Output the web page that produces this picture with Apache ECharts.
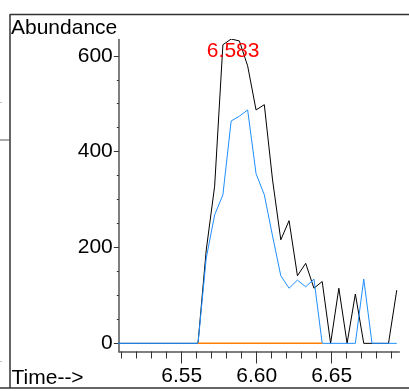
<!DOCTYPE html>
<html>
<head>
<meta charset="utf-8">
<script src="https://cdn.jsdelivr.net/npm/echarts@6/dist/echarts.min.js"></script>
<style>
  html, body { margin: 0; padding: 0; background: #fff; }
  #chart { width: 409px; height: 391px; }
</style>
</head>
<body>
<div id="chart"></div>
<script>
// Scan times (min) of the chromatogram window
const scanTimes = [
  6.5057, 6.5112, 6.5167, 6.5222, 6.5278, 6.5333, 6.5388, 6.5443, 6.5499, 6.5554,
  6.5609, 6.5664, 6.5720, 6.5775, 6.5830, 6.5885, 6.5940, 6.5996, 6.6051, 6.6106,
  6.6161, 6.6216, 6.6272, 6.6327, 6.6382, 6.6437, 6.6493, 6.6548, 6.6603, 6.6658,
  6.6714, 6.6769, 6.6824, 6.6879, 6.6934
];
// Total ion abundance (black trace)
const totalAbundance = [
  0, 0, 0, 0, 0, 0, 0, 0, 0, 0,
  0, 195, 328, 623, 635, 631, 579, 487, 498, 341,
  216, 256, 141, 167, 115, 129, 0, 115, 0, 103,
  0, 0, 0, 0, 111
];
// Extracted ion abundance (blue trace)
const ionAbundance = [
  0, 0, 0, 0, 0, 0, 0, 0, 0, 0,
  0, 178, 268, 310, 464, 474, 487, 354, 310, 224,
  141, 115, 132, 118, 134, 0, 0, 0, 0, 0,
  134, 0, 0, 0, 0
];
// Integration baseline of the peak
const baselineTimes = [6.5609, 6.6437];
const baselineAbundance = [0, 0];
// Peak apex annotation
const peakTime = 6.583;
const peakAbundance = 635;
const peakLabel = '6.583';
// Axis ticks
const xMajorTicks = [6.55, 6.60, 6.65];
const xMinorTicks = [6.51, 6.52, 6.53, 6.54, 6.56, 6.57, 6.58, 6.59, 6.61, 6.62, 6.63, 6.64, 6.66, 6.67, 6.68, 6.69];
const yMajorTicks = [0, 200, 400, 600];
const yMinorTicks = [50, 100, 150, 250, 300, 350, 450, 500, 550];

const FONT = '"Liberation Sans", Arial, sans-serif';
const AXIS_COLOR = '#555';

const pairs = (xs, ys) => xs.map((x, i) => [x, ys[i]]);

const xRange = { min: 6.5081, max: 6.6951 };
const yRange = { min: -17, max: 634 };

const chart = echarts.init(document.getElementById('chart'), null, { renderer: 'canvas' });

chart.setOption({
  animation: false,
  backgroundColor: '#fff',
  title: [
    { text: 'Abundance', left: 11, top: 17.5, padding: 0,
      textStyle: { fontSize: 21, fontWeight: 'normal', color: '#000', fontFamily: FONT } },
    { text: 'Time-->', left: 11.5, top: 367.5, padding: 0,
      textStyle: { fontSize: 21, fontWeight: 'normal', color: '#000', fontFamily: FONT } }
  ],
  grid: { left: 118.8, right: 9.7, top: 39.5, bottom: 39.5, containLabel: false },
  xAxis: [
    {
      type: 'value', position: 'bottom', ...xRange,
      axisLine: { show: true, onZero: false, lineStyle: { color: AXIS_COLOR, width: 1.5 } },
      axisTick: { show: true, customValues: xMajorTicks, length: 12, lineStyle: { color: '#333', width: 1 } },
      axisLabel: { show: true, customValues: xMajorTicks, formatter: v => v.toFixed(2),
        fontSize: 21, color: '#000', fontFamily: FONT, margin: 14.5 },
      splitLine: { show: false }
    },
    {
      type: 'value', position: 'bottom', ...xRange,
      axisLine: { show: false, onZero: false },
      axisTick: { show: true, customValues: xMinorTicks, length: 7, lineStyle: { color: '#333', width: 1 } },
      axisLabel: { show: false },
      splitLine: { show: false }
    }
  ],
  yAxis: [
    {
      type: 'value', position: 'left', ...yRange,
      axisLine: { show: true, onZero: false, lineStyle: { color: AXIS_COLOR, width: 1.5 } },
      axisTick: { show: true, customValues: yMajorTicks, length: 5, lineStyle: { color: '#333', width: 1 } },
      axisLabel: { show: true, customValues: yMajorTicks, fontSize: 21, color: '#000', fontFamily: FONT, margin: 6 },
      splitLine: { show: false }
    },
    {
      type: 'value', position: 'left', ...yRange,
      axisLine: { show: false, onZero: false },
      axisTick: { show: true, customValues: yMinorTicks, length: 2, lineStyle: { color: '#333', width: 1 } },
      axisLabel: { show: false },
      splitLine: { show: false }
    }
  ],
  series: [
    {
      name: 'TIC', type: 'line', xAxisIndex: 0, yAxisIndex: 0,
      data: pairs(scanTimes, totalAbundance),
      symbol: 'none', clip: true,
      lineStyle: { color: '#000', width: 1 },
      z: 2
    },
    {
      name: 'Ion', type: 'line', xAxisIndex: 0, yAxisIndex: 0,
      data: pairs(scanTimes, ionAbundance),
      symbol: 'none', clip: true,
      lineStyle: { color: '#1e8fff', width: 1 },
      z: 3
    },
    {
      name: 'Baseline', type: 'line', xAxisIndex: 0, yAxisIndex: 0,
      data: pairs(baselineTimes, baselineAbundance),
      symbol: 'none', clip: true,
      lineStyle: { color: '#ff7f00', width: 1.5, opacity: 1 },
      z: 4
    },
    {
      // apex retention time label
      name: 'Apex', type: 'scatter', xAxisIndex: 0, yAxisIndex: 0,
      data: [[peakTime, peakAbundance]],
      symbol: 'circle', symbolSize: 1, clip: false,
      itemStyle: { color: '#ff0000', opacity: 0 },
      silent: true,
      label: { show: true, position: 'inside', offset: [2, 12], formatter: peakLabel,
        color: '#ff0000', opacity: 1, fontSize: 21, fontFamily: FONT,
        textBorderWidth: 0, textBorderColor: 'transparent' },
      z: 5
    }
  ],
  graphic: [
    { type: 'line', silent: true, shape: { x1: 10, y1: 14.5, x2: 409, y2: 14.5 }, style: { stroke: '#333', lineWidth: 1.5 } },
    { type: 'line', silent: true, shape: { x1: 10, y1: 14, x2: 10, y2: 388 }, style: { stroke: '#333', lineWidth: 1.5 } },
    { type: 'line', silent: true, shape: { x1: 0, y1: 388, x2: 409, y2: 388 }, style: { stroke: '#333', lineWidth: 1.5 } },
    { type: 'line', silent: true, shape: { x1: 0, y1: 140, x2: 10, y2: 140 }, style: { stroke: '#555', lineWidth: 1 } },
    { type: 'line', silent: true, shape: { x1: 0, y1: 102.5, x2: 2, y2: 102.5 }, style: { stroke: '#bbb', lineWidth: 1 } },
    { type: 'line', silent: true, shape: { x1: 0, y1: 361.5, x2: 2, y2: 361.5 }, style: { stroke: '#bbb', lineWidth: 1 } }
  ]
});
</script>
</body>
</html>
